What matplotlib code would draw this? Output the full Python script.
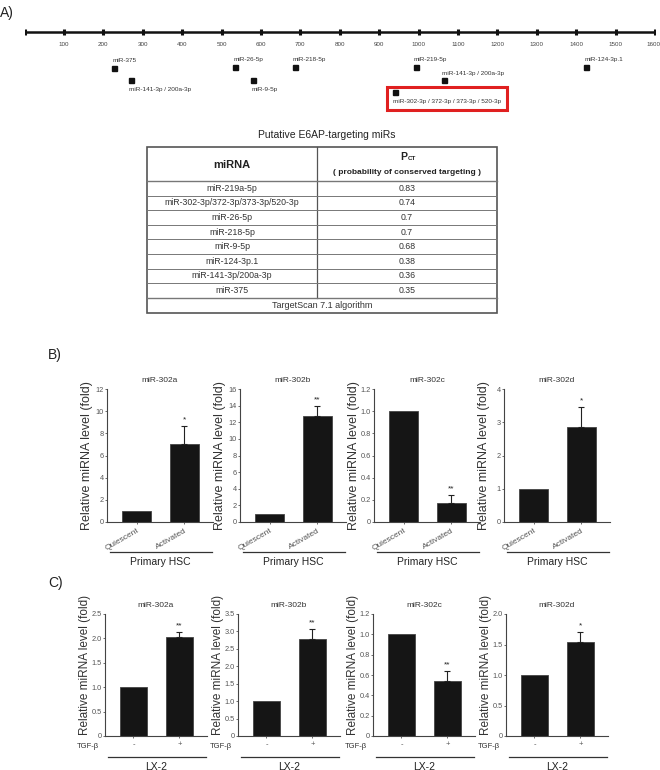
import numpy as np
import matplotlib.pyplot as plt
from matplotlib.patches import Rectangle

NARROW = ["Liberation Sans Narrow", "Liberation Sans", "DejaVu Sans"]
plt.rcParams["font.family"] = ["Liberation Sans", "DejaVu Sans"]

# A) miR sites on the E6AP 3'UTR (nt)
UTR_TICKS = np.arange(0, 1700, 100)
SITE_NAMES = ["miR-375", "miR-141-3p / 200a-3p", "miR-26-5p", "miR-9-5p",
              "miR-218-5p", "miR-302-3p / 372-3p / 373-3p / 520-3p",
              "miR-219-5p", "miR-141-3p / 200a-3p", "miR-124-3p.1"]
SITE_POS = [227, 270, 534, 580, 686, 940, 993, 1065, 1425]
# row of the square (px) and where its name goes
SITE_ROW = [68, 80, 67, 80, 67, 92, 67, 80, 67]
SITE_LABEL = ["above", "below", "above", "below", "above", "below", "above", "side", "above"]

# table
TABLE_TITLE = "Putative E6AP-targeting miRs"
TABLE_MIRS = ["miR-219a-5p", "miR-302-3p/372-3p/373-3p/520-3p", "miR-26-5p",
              "miR-218-5p", "miR-9-5p", "miR-124-3p.1", "miR-141-3p/200a-3p", "miR-375"]
TABLE_PCT = ["0.83", "0.74", "0.7", "0.7", "0.68", "0.38", "0.36", "0.35"]

# B) primary HSC
MIR_TITLES = ["miR-302a", "miR-302b", "miR-302c", "miR-302d"]
B_GROUPS = ["Quiescent", "Activated"]
B_QUIESCENT = [1, 1, 1, 1]
B_ACTIVATED = [7.0, 12.7, 0.17, 2.85]
B_ERR = [1.65, 1.2, 0.07, 0.6]
B_STARS = ["*", "**", "**", "*"]
B_YMAX = [12, 16, 1.2, 4]
B_YSTEP = [2, 2, 0.2, 1]

# C) LX-2 +/- TGF-beta
C_GROUPS = ["-", "+"]
C_CTRL = [1, 1, 1, 1]
C_TGF = [2.03, 2.78, 0.54, 1.54]
C_ERR = [0.1, 0.29, 0.1, 0.17]
C_STARS = ["**", "**", "**", "*"]
C_YMAX = [2.5, 3.5, 1.2, 2.0]
C_YSTEP = [0.5, 0.5, 0.2, 0.5]

W, H = 660, 770


def rect(x0, y_top, w, h):
    # pixel box (top-left origin) -> figure fraction
    return [x0 / W, 1 - (y_top + h) / H, w / W, h / H]


def fmt(v, step):
    if v == 0:
        return "0"
    return f"{v:.1f}" if step < 1 else f"{int(v)}"


def bar_panel(ax, title, vals, err, star, ymax, ystep, groups, rot, cell, tgf):
    x = np.arange(2)
    ax.bar(x, vals, width=0.6, color="#151515", edgecolor="#444444", linewidth=0.6)
    ax.errorbar(x[1], vals[1], yerr=[[0], [err]], color="#222222", elinewidth=0.8,
                capsize=2, capthick=0.8)
    ax.text(x[1], vals[1] + err + ymax * 0.02, star, ha="center", va="bottom",
            fontsize=6, color="#222222")
    ax.set_xlim(-0.62, 1.6)
    ax.set_ylim(0, ymax)
    ticks = np.round(np.arange(0, ymax + ystep / 2, ystep), 2)
    ax.set_yticks(ticks)
    ax.set_yticklabels([fmt(t, ystep) for t in ticks], family=NARROW, fontsize=5.3,
                       color="#555555")
    ax.set_xticks(x)
    if rot:
        ax.set_xticklabels(groups, rotation=30, ha="right", rotation_mode="anchor",
                           family=NARROW, fontsize=6, color="#333333")
    else:
        ax.set_xticklabels(groups, family=NARROW, fontsize=5.5, color="#555555")
    ax.tick_params(axis="y", length=1.5, width=0.6, pad=1, colors="#555555")
    ax.tick_params(axis="x", length=1.5, width=0.6, pad=2, colors="#555555")
    for s in ["top", "right"]:
        ax.spines[s].set_visible(False)
    for s in ["left", "bottom"]:
        ax.spines[s].set_color("#444444")
        ax.spines[s].set_linewidth(0.8)
    ax.set_title(title, family=NARROW, fontsize=6, color="#333333", pad=5)
    if tgf:
        ax.set_ylabel("Relative miRNA level (fold)", fontsize=8.5, color="#333333")
        ax.yaxis.set_label_coords(-0.14, 0.58)
        ax.text(-0.06, -0.09, "TGF-β", transform=ax.transAxes, ha="right", va="center",
                family=NARROW, fontsize=5.5, color="#333333")
        ly, ty = -0.172, -0.25
    else:
        ax.set_ylabel("Relative miRNA level (fold)", fontsize=9, color="#333333")
        ax.yaxis.set_label_coords(-0.135, 0.5)
        ly, ty = -0.226, -0.30
    ax.plot([0.03, 0.99], [ly, ly], transform=ax.transAxes, color="#333333",
            linewidth=0.9, clip_on=False)
    ax.text(0.5, ty, cell, transform=ax.transAxes, ha="center", va="center",
            fontsize=7.5, color="#222222")


fig = plt.figure(figsize=(6.6, 7.7), dpi=100)

# background for labels and the table, in pixel units
bg = fig.add_axes([0, 0, 1, 1])
bg.set_xlim(0, W)
bg.set_ylim(H, 0)
bg.axis("off")
for lab, (lx, ly) in zip(["A)", "B)", "C)"], [(0, 13), (48, 355), (48, 583)]):
    bg.text(lx, ly, lab, fontsize=10, ha="left", va="center", color="#222222")

# A) UTR scale
axa = fig.add_axes(rect(24.6, 25, 630.4, 90))
axa.set_xlim(0, 1600)
axa.set_ylim(115, 25)
axa.axis("off")
axa.plot([UTR_TICKS[0], UTR_TICKS[-1]], [32, 32], color="#111111", linewidth=1.8,
         solid_capstyle="butt")
axa.plot(UTR_TICKS, [32] * len(UTR_TICKS), linestyle="none", marker="|",
         markersize=4.5, markeredgewidth=2.2, color="#111111")
for t in UTR_TICKS[1:]:
    last = t == UTR_TICKS[-1]
    axa.annotate(str(t), (t, 44), xytext=(4 if last else 0, 0), textcoords="offset points",
                 ha="right" if last else "center", va="center", fontsize=4.5,
                 family=NARROW, color="#444444")
for name, pos, row, where in zip(SITE_NAMES, SITE_POS, SITE_ROW, SITE_LABEL):
    axa.plot(pos, row, marker="s", markersize=3.6, color="#111111")
    dy = {"above": -7, "below": 10, "side": -6}[where]
    axa.text(pos - 5, row + dy, name, ha="left", va="center", fontsize=4.6,
             family=NARROW, color="#333333")
    if name.startswith("miR-302"):
        axa.add_patch(Rectangle((pos - 20, 87), 304, 23, fill=False, edgecolor="#e02020",
                                linewidth=2.2, clip_on=False))

# table
tx0, tx1, tx2 = 147, 317, 497
ty_head, ty_body = 147, 181
row_h = 14.6
ty_foot = ty_body + row_h * len(TABLE_MIRS)
ty_end = ty_foot + 15
bg.text(327, 135, TABLE_TITLE, ha="center", va="center", fontsize=7.5, color="#222222")
bg.add_patch(Rectangle((tx0, ty_head), tx2 - tx0, ty_end - ty_head, fill=False,
                       edgecolor="#555555", linewidth=1.2))
bg.plot([tx1, tx1], [ty_head, ty_foot], color="#555555", linewidth=0.9)
for i in range(len(TABLE_MIRS) + 1):
    yy = ty_body + i * row_h
    bg.plot([tx0, tx2], [yy, yy], color="#777777",
            linewidth=0.7 if 0 < i < len(TABLE_MIRS) else 1.0)
bg.text((tx0 + tx1) / 2, 165, "miRNA", ha="center", va="center", fontsize=8,
        fontweight="bold", color="#222222")
bg.text((tx1 + tx2) / 2 - 3, 157, "P", ha="center", va="center", fontsize=7.5,
        fontweight="bold", color="#222222")
bg.text((tx1 + tx2) / 2 + 1, 159, "CT", ha="left", va="center", fontsize=4.5,
        fontweight="bold", color="#222222")
bg.text((tx1 + tx2) / 2, 173, "( probability of conserved targeting )", ha="center",
        va="center", fontsize=6, fontweight="bold", color="#222222")
for i, (m, p) in enumerate(zip(TABLE_MIRS, TABLE_PCT)):
    yc = ty_body + (i + 0.5) * row_h
    bg.text((tx0 + tx1) / 2, yc, m, ha="center", va="center", fontsize=6.3, color="#333333")
    bg.text((tx1 + tx2) / 2, yc, p, ha="center", va="center", fontsize=6.3, color="#333333")
bg.text((tx0 + tx2) / 2, (ty_foot + ty_end) / 2, "TargetScan 7.1 algorithm",
        ha="center", va="center", fontsize=6.5, color="#333333")

# B)
b_left = [107, 240, 374, 504]
for i in range(4):
    ax = fig.add_axes(rect(b_left[i], 389, 106, 133))
    bar_panel(ax, MIR_TITLES[i], [B_QUIESCENT[i], B_ACTIVATED[i]], B_ERR[i], B_STARS[i],
              B_YMAX[i], B_YSTEP[i], B_GROUPS, True, "Primary HSC", False)

# C)
c_left = [105, 238, 373, 506]
for i in range(4):
    ax = fig.add_axes(rect(c_left[i], 614, 102, 122))
    bar_panel(ax, MIR_TITLES[i], [C_CTRL[i], C_TGF[i]], C_ERR[i], C_STARS[i],
              C_YMAX[i], C_YSTEP[i], C_GROUPS, False, "LX-2", True)

fig.savefig("out.png", dpi=100)
